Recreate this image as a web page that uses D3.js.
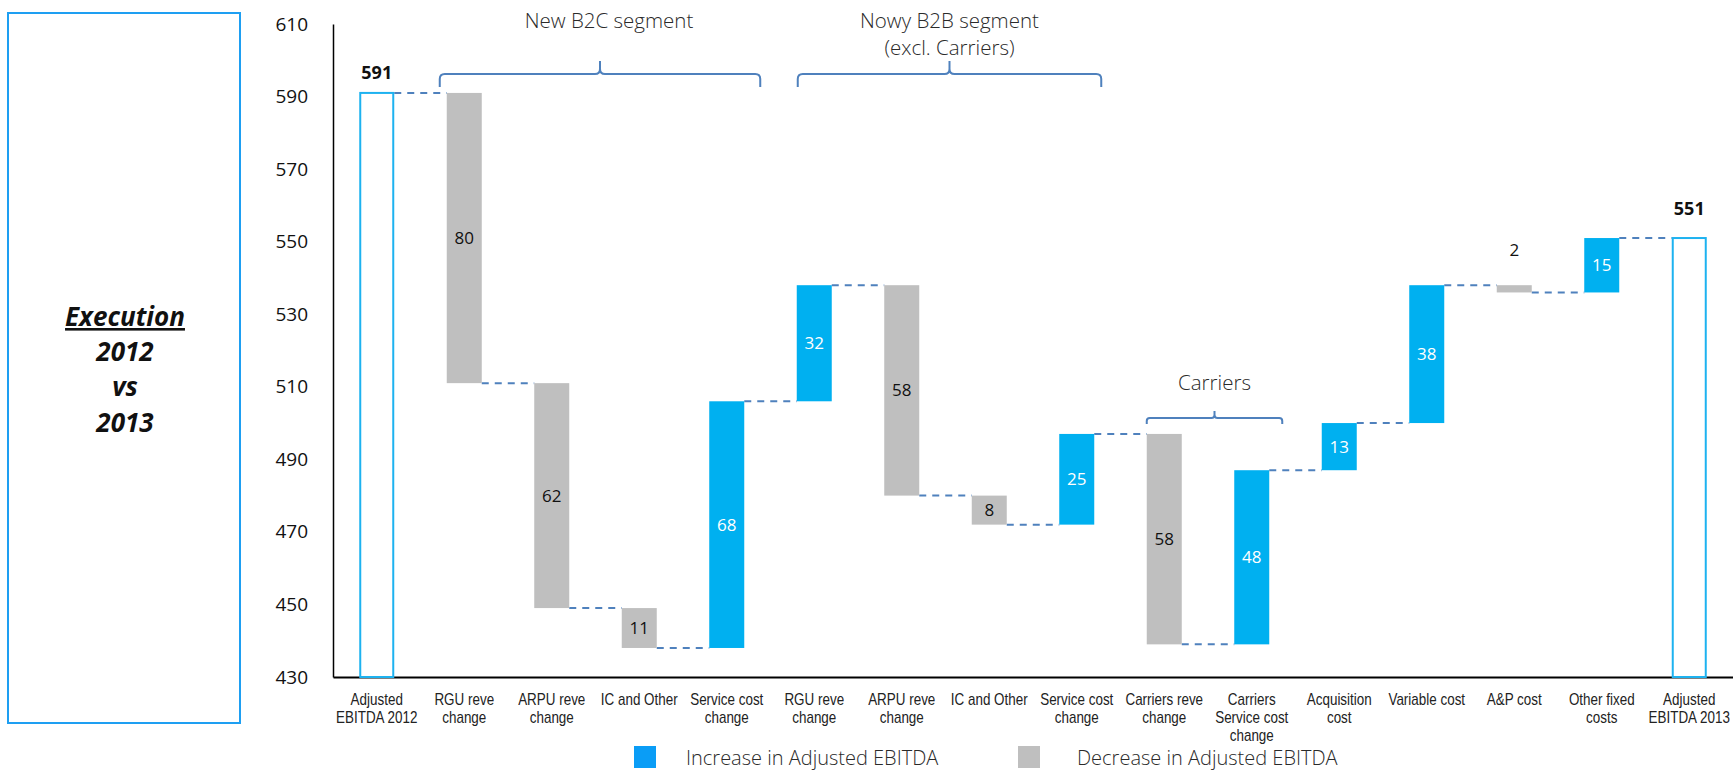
<!DOCTYPE html>
<html>
<head>
<meta charset="utf-8">
<script src="https://cdn.jsdelivr.net/npm/d3@7"></script>
<style>
  html, body { margin: 0; padding: 0; background: #ffffff; }
  svg { display: block; }
</style>
</head>
<body>
<svg id="chart" width="1733" height="771"></svg>
<script>
// ---- Data -------------------------------------------------------------
const categoryLabels = [
  ["Adjusted", "EBITDA 2012"],
  ["RGU reve", "change"],
  ["ARPU reve", "change"],
  ["IC and Other"],
  ["Service cost", "change"],
  ["RGU reve", "change"],
  ["ARPU reve", "change"],
  ["IC and Other"],
  ["Service cost", "change"],
  ["Carriers reve", "change"],
  ["Carriers", "Service cost", "change"],
  ["Acquisition", "cost"],
  ["Variable cost"],
  ["A&P cost"],
  ["Other fixed", "costs"],
  ["Adjusted", "EBITDA 2013"]
];
const barKinds  = ["total", "delta", "delta", "delta", "delta", "delta", "delta", "delta",
                   "delta", "delta", "delta", "delta", "delta", "delta", "delta", "total"];
const barValues = [591, -80, -62, -11, 68, 32, -58, -8, 25, -58, 48, 13, 38, -2, 15, 551];
const yTicks = [430, 450, 470, 490, 510, 530, 550, 570, 590, 610];
const segmentBrackets = [
  { label: ["New B2C segment"], from: 1, to: 4 },
  { label: ["Nowy B2B segment", "(excl. Carriers)"], from: 5, to: 8 },
  { label: ["Carriers"], from: 9, to: 10 }
];
const legendLabels = ["Increase in Adjusted EBITDA", "Decrease in Adjusted EBITDA"];
const sideTitle = ["Execution", "2012", "vs", "2013"];

// ---- Styling ------------------------------------------------------------
const COLOR_UP = "#00B0F0";
const COLOR_DOWN = "#BFBFBF";
const COLOR_TOTAL = "#1DB2F0";
const COLOR_LINK = "#4F81BD";
const COLOR_LEGEND_UP = "#0A9DF6";
const FONT = "'Open Sans', 'Noto Sans', sans-serif";
const FONT_LABEL = "'Liberation Sans', Arial, sans-serif";

const svg = d3.select("#chart");

// ---- Scales -------------------------------------------------------------
const plot = { left: 333, right: 1733, top: 24, bottom: 677 };
const idx = barValues.map((d, i) => i);

const x = d3.scaleBand()
  .domain(idx)
  .range([plot.left, plot.right])
  .paddingInner(0.6)
  .paddingOuter(0.3);

const y = d3.scaleLinear()
  .domain([d3.min(yTicks), d3.max(yTicks)])
  .range([plot.bottom, plot.top]);

// ---- Waterfall geometry -------------------------------------------------
let running = 0;
const bars = barValues.map((v, i) => {
  let lo, hi, end, type;
  if (barKinds[i] === "total") {
    lo = y.domain()[0]; hi = v; end = v; type = "total";
  } else {
    const start = running;
    end = start + v;
    lo = Math.min(start, end); hi = Math.max(start, end);
    type = v >= 0 ? "up" : "down";
  }
  running = end;
  return { i, value: v, lo, hi, end, type };
});

// ---- Side title box -----------------------------------------------------
svg.append("rect")
  .attr("x", 8).attr("y", 13).attr("width", 232).attr("height", 710)
  .attr("fill", "none").attr("stroke", "#1E9FF2").attr("stroke-width", 2);

const titleY = [326, 361, 396, 432];
sideTitle.forEach((t, k) => {
  svg.append("text")
    .attr("x", 125).attr("y", titleY[k])
    .attr("text-anchor", "middle")
    .attr("font-family", FONT)
    .attr("font-weight", 700)
    .attr("font-style", "italic")
    .attr("font-size", 26)
    .attr("fill", "#111")
    .attr("text-decoration", k === 0 ? "underline" : null)
    .text(t);
});

// ---- Axes ---------------------------------------------------------------
const yAxis = svg.append("g")
  .attr("transform", `translate(${plot.left},0)`)
  .call(d3.axisLeft(y).tickValues(yTicks).tickSize(0).tickSizeOuter(0).tickPadding(25));
yAxis.select(".domain").attr("stroke", "#000").attr("stroke-width", 1.5);
yAxis.selectAll(".tick text")
  .attr("font-family", FONT).attr("font-size", 19).attr("fill", "#111");

const xAxis = svg.append("g")
  .attr("transform", `translate(0,${plot.bottom})`)
  .call(d3.axisBottom(x).tickSize(0).tickSizeOuter(0).tickFormat(""));
xAxis.select(".domain").attr("stroke", "#000").attr("stroke-width", 2);
xAxis.selectAll(".tick text").remove();
xAxis.selectAll(".tick").each(function (d) {
  // condensed category labels: horizontally squeezed around the tick centre
  const t = d3.select(this).append("text")
    .attr("transform", "scale(0.84,1)")
    .attr("text-anchor", "middle")
    .attr("font-family", FONT_LABEL)
    .attr("font-size", 16)
    .attr("fill", "#222");
  categoryLabels[d].forEach((line, k) => {
    t.append("tspan").attr("x", 0).attr("y", 28 + k * 18).text(line);
  });
});

// ---- Connector lines ----------------------------------------------------
const links = bars.slice(0, -1).map(b => ({ from: b.i, to: b.i + 1, level: b.end }));
svg.append("g").selectAll("line")
  .data(links)
  .join("line")
  .attr("x1", d => x(d.from) + x.bandwidth())
  .attr("x2", d => x(d.to))
  .attr("y1", d => y(d.level))
  .attr("y2", d => y(d.level))
  .attr("stroke", COLOR_LINK)
  .attr("stroke-width", 2)
  .attr("stroke-dasharray", "7,6");

// ---- Bars ---------------------------------------------------------------
svg.append("g").selectAll("rect")
  .data(bars)
  .join("rect")
  .attr("x", d => x(d.i) + (d.type === "total" ? 1 : 0))
  .attr("width", d => x.bandwidth() - (d.type === "total" ? 2 : 0))
  .attr("y", d => y(d.hi))
  .attr("height", d => y(d.lo) - y(d.hi))
  .attr("fill", d => d.type === "total" ? "#ffffff" : d.type === "up" ? COLOR_UP : COLOR_DOWN)
  .attr("stroke", d => d.type === "total" ? COLOR_TOTAL : null)
  .attr("stroke-width", d => d.type === "total" ? 2 : null);

// ---- Value labels -------------------------------------------------------
const totalLabelOffset = { 0: 14, 15: 23 };
svg.append("g").selectAll("text")
  .data(bars)
  .join("text")
  .attr("x", d => x(d.i) + x.bandwidth() / 2)
  .attr("y", d => {
    if (d.type === "total") return y(d.hi) - totalLabelOffset[d.i];
    const h = y(d.lo) - y(d.hi);
    if (h < 20) return y(d.hi) - 29;
    return (y(d.lo) + y(d.hi)) / 2 + 6;
  })
  .attr("text-anchor", "middle")
  .attr("font-family", FONT)
  .attr("font-size", d => d.type === "total" ? 18 : 17)
  .attr("font-weight", d => d.type === "total" ? 700 : 400)
  .attr("fill", d => {
    if (d.type === "up" && (y(d.lo) - y(d.hi)) >= 20) return "#ffffff";
    return "#111";
  })
  .text(d => Math.abs(d.value));

// ---- Segment brackets ---------------------------------------------------
const bracketStyle = [
  { padL: -7, padR: 16, y: 74, drop: 13, rise: 13, r: 5, textY: [28], textDx: 9 },
  { padL: 1, padR: 7, y: 74, drop: 13, rise: 13, r: 5, textY: [28, 55], textDx: 0 },
  { padL: 0, padR: 13, y: 418, drop: 6, rise: 7, r: 3, textY: [390], textDx: 0 }
];
segmentBrackets.forEach((b, k) => {
  const s = bracketStyle[k];
  const x0 = x(b.from) + s.padL;
  const x1 = x(b.to) + x.bandwidth() + s.padR;
  const m = (x0 + x1) / 2;
  const yy = s.y, r = s.r;
  const p = d3.path();
  p.moveTo(x0, yy + s.drop);
  p.lineTo(x0, yy + r);
  p.quadraticCurveTo(x0, yy, x0 + r, yy);
  p.lineTo(m - r, yy);
  p.quadraticCurveTo(m, yy, m, yy - r);
  p.lineTo(m, yy - s.rise);
  p.moveTo(m, yy - r);
  p.quadraticCurveTo(m, yy, m + r, yy);
  p.lineTo(x1 - r, yy);
  p.quadraticCurveTo(x1, yy, x1, yy + r);
  p.lineTo(x1, yy + s.drop);
  svg.append("path")
    .attr("d", p.toString())
    .attr("fill", "none")
    .attr("stroke", COLOR_LINK)
    .attr("stroke-width", 2);
  b.label.forEach((line, j) => {
    svg.append("text")
      .attr("x", m + s.textDx).attr("y", s.textY[j])
      .attr("text-anchor", "middle")
      .attr("font-family", FONT)
      .attr("font-weight", 300)
      .attr("font-size", 20.5)
      .attr("fill", "#2a2a2a")
      .text(line);
  });
});

// ---- Legend -------------------------------------------------------------
const legendPos = [{ sx: 634, tx: 686 }, { sx: 1018, tx: 1077 }];
const legendColors = [COLOR_LEGEND_UP, COLOR_DOWN];
legendLabels.forEach((lab, k) => {
  svg.append("rect")
    .attr("x", legendPos[k].sx).attr("y", 746)
    .attr("width", 22).attr("height", 22)
    .attr("fill", legendColors[k]);
  svg.append("text")
    .attr("x", legendPos[k].tx).attr("y", 765)
    .attr("font-family", FONT)
    .attr("font-weight", 300)
    .attr("font-size", 20)
    .attr("fill", "#2a2a2a")
    .text(lab);
});
</script>
</body>
</html>
